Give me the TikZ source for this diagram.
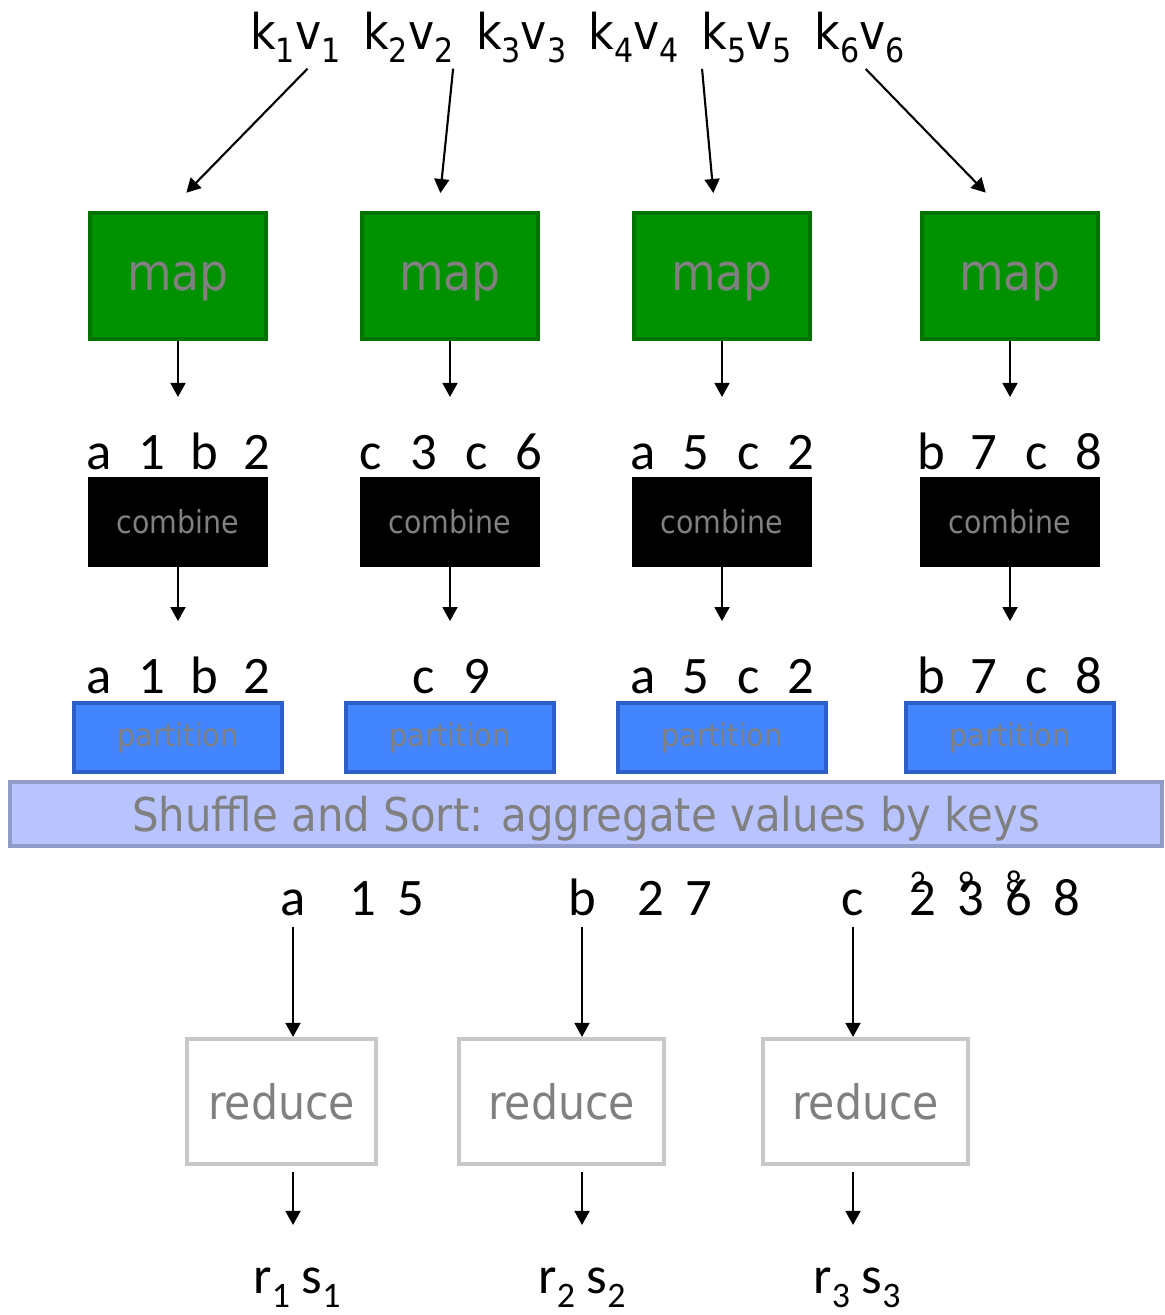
\documentclass[tikz,border=0pt]{standalone}
\usepackage{fontspec}
\setmainfont{Carlito}
\newfontfamily\boxfont[FakeStretch=0.9]{DejaVu Sans}
\usetikzlibrary{arrows.meta, positioning}
\definecolor{mapgreen}{RGB}{0,145,0}
\definecolor{mapline}{RGB}{0,115,0}
\definecolor{boxtext}{RGB}{128,128,128}
\definecolor{partblue}{RGB}{66,133,255}
\definecolor{partline}{RGB}{45,95,200}
\definecolor{shufblue}{RGB}{185,196,255}
\definecolor{shufline}{RGB}{145,155,200}
\definecolor{redline}{RGB}{200,200,200}
\newcommand\subnum[1]{\raisebox{-0.25em}{\scalebox{0.68}{#1}}}
\newcommand\kvc[1]{\makebox[30pt]{#1}}
\newcommand\gvc[1]{\makebox[27.3pt]{#1}}

\begin{document}
\begin{tikzpicture}[
    kvtext/.style={inner sep=0pt, font=\boxfont\fontsize{28}{34}\selectfont},
    pairs/.style={inner sep=0pt, text height=22pt, text depth=0pt, font=\fontsize{30}{36}\selectfont},
    tagtext/.style={inner sep=0pt, font=\fontsize{18}{20}\selectfont},
    mapbox/.style={rectangle, draw=mapline, line width=2.3pt, fill=mapgreen, minimum width=3.52cm, minimum height=2.52cm, text depth=0pt, text=boxtext, font=\boxfont\fontsize{29}{34}\selectfont},
    combbox/.style={rectangle, fill=black, minimum width=3.6cm, minimum height=1.8cm, text=boxtext, font=\boxfont\fontsize{18}{22}\selectfont},
    partbox/.style={rectangle, draw=partline, line width=2.3pt, fill=partblue, minimum width=4.16cm, minimum height=1.38cm, text=boxtext, font=\boxfont\fontsize{18}{22}\selectfont},
    shufbox/.style={rectangle, draw=shufline, line width=2.3pt, fill=shufblue, minimum width=23.04cm, minimum height=1.28cm, text depth=0pt, text=boxtext, font=\boxfont\fontsize{26.5}{32}\selectfont},
    redbox/.style={rectangle, draw=redline, line width=2.3pt, fill=white, minimum width=4.10cm, minimum height=2.5cm, text=boxtext, font=\boxfont\fontsize{27}{32}\selectfont},
    flow/.style={-{Triangle[length=8pt,width=8.5pt]}, line width=1.2pt}
]
\useasboundingbox (0,0) rectangle (23.3,26.3);

% Input pairs
\node[kvtext, anchor=base west] (kv1) at (5.0,25.3) {k\subnum{1}v\subnum{1}};
\node[kvtext, right=0.44cm of kv1] (kv2) {k\subnum{2}v\subnum{2}};
\node[kvtext, right=0.44cm of kv2] (kv3) {k\subnum{3}v\subnum{3}};
\node[kvtext, right=0.44cm of kv3] (kv4) {k\subnum{4}v\subnum{4}};
\node[kvtext, right=0.44cm of kv4] (kv5) {k\subnum{5}v\subnum{5}};
\node[kvtext, right=0.44cm of kv5] (kv6) {k\subnum{6}v\subnum{6}};

% Mappers
\node[mapbox] (map1) at (3.56,20.78) {map};
\node[mapbox] (map2) at (9.0,20.78) {map};
\node[mapbox] (map3) at (14.44,20.78) {map};
\node[mapbox] (map4) at (20.2,20.78) {map};

% Map output
\node[pairs, below=1.78cm of map1] (mo1) {\kvc{a}\kvc{1}\kvc{b}\kvc{2}};
\node[pairs, below=1.78cm of map2] (mo2) {\kvc{c}\kvc{3}\kvc{c}\kvc{6}};
\node[pairs, below=1.78cm of map3] (mo3) {\kvc{a}\kvc{5}\kvc{c}\kvc{2}};
\node[pairs, below=1.78cm of map4] (mo4) {\kvc{b}\kvc{7}\kvc{c}\kvc{8}};

% Combiners
\node[combbox, below=0.14cm of mo1] (comb1) {combine};
\node[combbox, below=0.14cm of mo2] (comb2) {combine};
\node[combbox, below=0.14cm of mo3] (comb3) {combine};
\node[combbox, below=0.14cm of mo4] (comb4) {combine};

% Combiner output
\node[pairs, below=1.74cm of comb1] (co1) {\kvc{a}\kvc{1}\kvc{b}\kvc{2}};
\node[pairs, below=1.74cm of comb2] (co2) {\kvc{c}\kvc{9}};
\node[pairs, below=1.74cm of comb3] (co3) {\kvc{a}\kvc{5}\kvc{c}\kvc{2}};
\node[pairs, below=1.74cm of comb4] (co4) {\kvc{b}\kvc{7}\kvc{c}\kvc{8}};

% Partitioners
\node[partbox, below=0.16cm of co1] (part1) {partition};
\node[partbox, below=0.16cm of co2] (part2) {partition};
\node[partbox, below=0.16cm of co3] (part3) {partition};
\node[partbox, below=0.16cm of co4] (part4) {partition};

% Shuffle
\node[shufbox] (shuffle) at (11.72,10.02) {Shuffle and Sort: aggregate values by keys};

% Grouped values
\node[pairs, anchor=base] (gkey1) at (5.86,7.98) {a};
\node[pairs, anchor=base] (gkey2) at (11.64,7.98) {b};
\node[pairs, anchor=base] (gkey3) at (17.06,7.98) {c};
\node[pairs, right=0.65cm of gkey1] (gval1) {\gvc{1}\gvc{5}};
\node[pairs, right=0.6cm of gkey2] (gval2) {\gvc{2}\gvc{7}};
\node[pairs, right=0.68cm of gkey3] (gval3) {\gvc{2}\gvc{3}\gvc{6}\gvc{8}};
\node[tagtext, anchor=base] (tag1) at (18.36,8.44) {2};
\node[tagtext, anchor=base] (tag2) at (19.32,8.44) {9};
\node[tagtext, anchor=base] (tag3) at (20.28,8.44) {8};

% Reducers
\node[redbox, minimum width=3.78cm] (red1) at (5.63,4.27) {reduce};
\node[redbox] (red2) at (11.23,4.27) {reduce};
\node[redbox] (red3) at (17.31,4.27) {reduce};

% Results
\node[pairs, anchor=base] (out1) at (5.94,0.42) {r\subnum{1} s\subnum{1}};
\node[pairs, anchor=base] (out2) at (11.64,0.42) {r\subnum{2} s\subnum{2}};
\node[pairs, anchor=base] (out3) at (17.14,0.42) {r\subnum{3} s\subnum{3}};

% Edges
\draw[flow, shorten <=0.17cm, shorten >=0.51cm] ([xshift=0.36cm]kv1.south) -- ([xshift=-0.19cm]map1.north);
\draw[flow, shorten <=0.12cm, shorten >=0.36cm] (kv2.south east) -- ([xshift=-0.23cm]map2.north);
\draw[flow, shorten <=0.12cm, shorten >=0.36cm] (kv5.south west) -- ([xshift=-0.14cm]map3.north);
\draw[flow, shorten <=0.17cm, shorten >=0.51cm] (kv6.south) -- ([xshift=-0.13cm]map4.north);

\draw[flow, shorten >=0.66cm] (map1.south) -- (mo1.north);
\draw[flow, shorten >=0.66cm] (map2.south) -- (mo2.north);
\draw[flow, shorten >=0.66cm] (map3.south) -- (mo3.north);
\draw[flow, shorten >=0.66cm] (map4.south) -- (mo4.north);

\draw[flow, shorten >=0.66cm] (comb1.south) -- (co1.north);
\draw[flow, shorten >=0.66cm] (comb2.south) -- (co2.north);
\draw[flow, shorten >=0.66cm] (comb3.south) -- (co3.north);
\draw[flow, shorten >=0.66cm] (comb4.south) -- (co4.north);

\draw[flow, shorten <=0.22cm] (gkey1.south) -- (gkey1.south |- red1.north);
\draw[flow, shorten <=0.22cm] (gkey2.south) -- (gkey2.south |- red2.north);
\draw[flow, shorten <=0.22cm] (gkey3.south) -- (gkey3.south |- red3.north);

\draw[flow, shorten <=0.12cm, shorten >=0.6cm] (red1.south -| gkey1) -- (gkey1 |- out1.north);
\draw[flow, shorten <=0.12cm, shorten >=0.6cm] (red2.south -| gkey2) -- (gkey2 |- out2.north);
\draw[flow, shorten <=0.12cm, shorten >=0.6cm] (red3.south -| gkey3) -- (gkey3 |- out3.north);

\end{tikzpicture}
\end{document}
